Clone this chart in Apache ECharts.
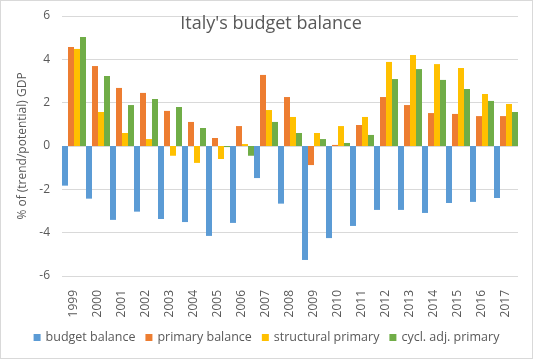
<!DOCTYPE html>
<html><head><meta charset="utf-8">
<script src="https://cdn.jsdelivr.net/npm/echarts@6/dist/echarts.min.js"></script>
<style>html,body{margin:0;padding:0;background:#fff}#c{width:531px;height:357px;border:1px solid #d9d9d9}</style>
</head><body><div id="c"></div>
<script>
var years = ['1999','2000','2001','2002','2003','2004','2005','2006','2007','2008','2009','2010','2011','2012','2013','2014','2015','2016','2017'];
var budgetBalance = [-1.83,-2.43,-3.41,-3.03,-3.37,-3.51,-4.15,-3.55,-1.48,-2.66,-5.26,-4.25,-3.69,-2.95,-2.95,-3.09,-2.63,-2.58,-2.4];
var primaryBalance = [4.57,3.69,2.68,2.45,1.62,1.11,0.37,0.92,3.28,2.26,-0.88,0.05,0.97,2.26,1.89,1.52,1.48,1.38,1.38];
var structuralPrimary = [4.48,1.57,0.6,0.32,-0.45,-0.78,-0.6,0.09,1.66,1.34,0.6,0.92,1.34,3.88,4.2,3.78,3.6,2.4,1.94];
var cyclAdjPrimary = [5.03,3.23,1.89,2.17,1.8,0.83,-0.05,-0.45,1.11,0.6,0.32,0.14,0.51,3.09,3.55,3.05,2.63,2.08,1.57];
var yTicks = [-6,-4,-2,0,2,4,6];

var font = 'Open Sans';
var chart = echarts.init(document.getElementById('c'));
function s(name, data, color){
  return {name:name, type:'bar', data:data, itemStyle:{color:color}, barGap:'0%', barCategoryGap:'0%'};
}
chart.setOption({
  animation:false,
  textStyle:{fontFamily:font},
  title:{text:"Italy's budget balance", left:265, top:9, textAlign:'center',
    textStyle:{fontFamily:font, fontSize:18, fontWeight:'normal', color:'#595959'}},
  grid:{left:61, right:14, top:15, bottom:82},
  legend:{bottom:9, left:'center', itemWidth:7, itemHeight:7, itemGap:10,
    icon:'rect', textStyle:{fontFamily:font, fontSize:12.5, color:'#595959'},
    data:['budget balance','primary balance','structural primary','cycl. adj. primary']},
  xAxis:{type:'category', data:years, axisLine:{show:false, onZero:false}, axisTick:{show:false},
    axisLabel:{rotate:90, margin:14, color:'#595959', fontSize:12, fontFamily:font}},
  yAxis:{type:'value', min:yTicks[0], max:yTicks[yTicks.length-1], interval:2,
    name:'% of (trend/potential) GDP', nameLocation:'middle', nameGap:32, nameRotate:90,
    nameTextStyle:{color:'#595959', fontSize:12, fontFamily:font},
    axisLabel:{color:'#595959', fontSize:12, margin:12},
    splitLine:{lineStyle:{color:'#d9d9d9'}}},
  series:[
    s('budget balance', budgetBalance, '#5B9BD5'),
    s('primary balance', primaryBalance, '#ED7D31'),
    s('structural primary', structuralPrimary, '#FFC000'),
    s('cycl. adj. primary', cyclAdjPrimary, '#70AD47')
  ]
});
</script></body></html>
